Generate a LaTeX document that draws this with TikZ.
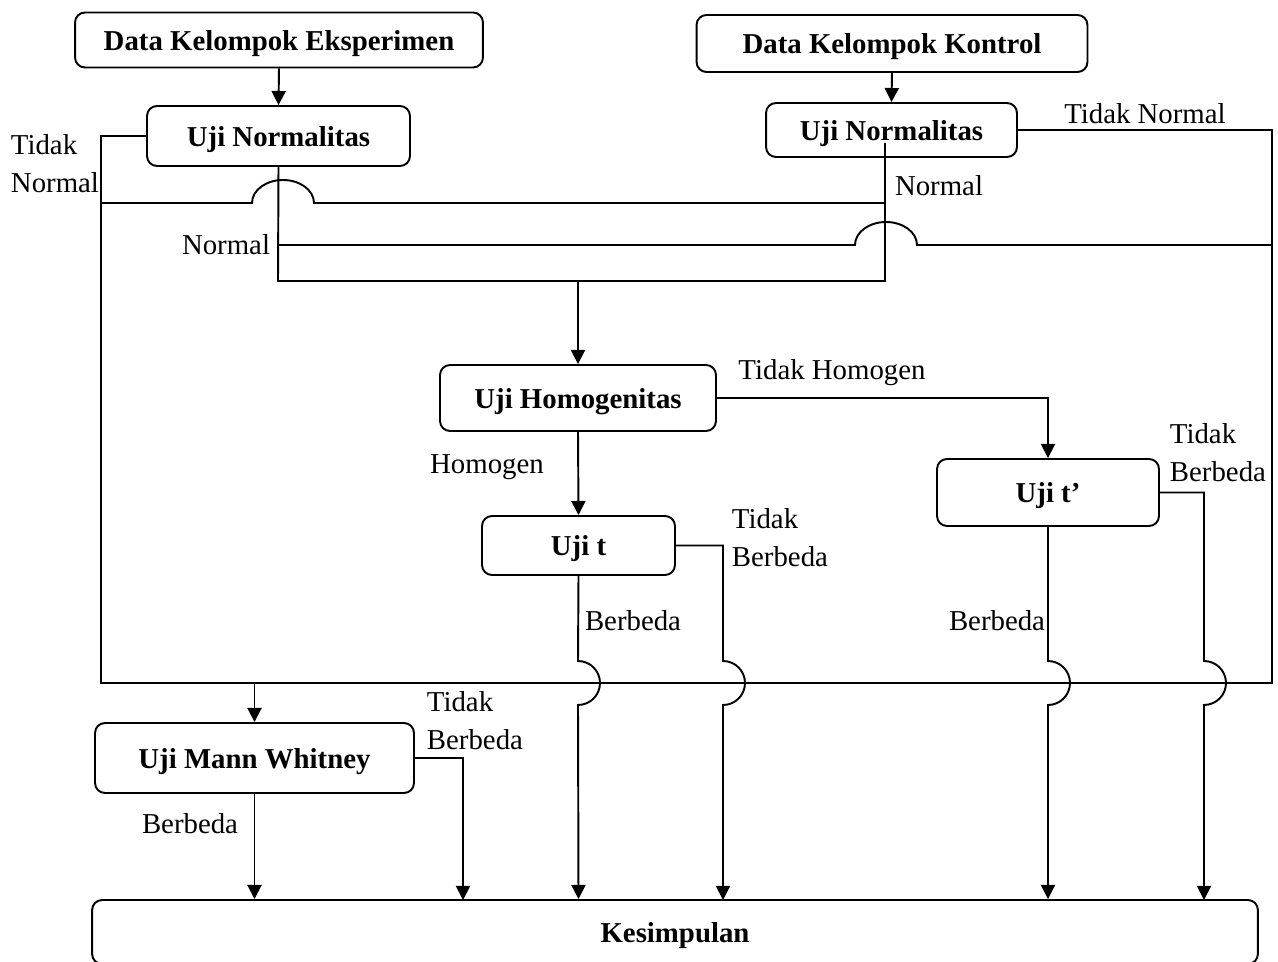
\documentclass[tikz,border=0pt]{standalone}
\usepackage{fontspec}
\setmainfont{Liberation Serif}
\usetikzlibrary{arrows.meta}

\begin{document}
\begin{tikzpicture}[x=0.02cm,y=-0.02cm,line width=1.1pt,
  box/.style={draw,rounded corners=0.2cm,align=center,font=\bfseries,text height=0.72em,text depth=0pt},
  lbl/.style={inner sep=0pt,align=left},
  arr/.style={-{Triangle[length=8pt,width=8pt]}}]
  \fontsize{16.4}{21.6}\selectfont
  \useasboundingbox (0,0) rectangle (1278,962);
  \node[box,minimum width=8.16cm,minimum height=1.10cm] (expdata) at (279,40) {Data Kelompok Eksperimen};
  \node[box,minimum width=7.82cm,minimum height=1.14cm] (kondata) at (892,43.5) {Data Kelompok Kontrol};
  \node[box,minimum width=5.26cm,minimum height=1.20cm] (norm1) at (278.5,136) {Uji Normalitas};
  \node[box,minimum width=5.02cm,minimum height=1.08cm] (norm2) at (891.5,130) {Uji Normalitas};
  \node[box,minimum width=5.52cm,minimum height=1.32cm] (homog) at (578,398) {Uji Homogenitas};
  \node[box,minimum width=3.86cm,minimum height=1.18cm] (ujit) at (578.5,545.5) {Uji t};
  \node[box,minimum width=4.44cm,minimum height=1.34cm] (ujitp) at (1048,492.5) {Uji t’};
  \node[box,minimum width=6.38cm,minimum height=1.40cm] (mannw) at (254.5,758) {Uji Mann Whitney};
  \node[box,minimum width=23.32cm,minimum height=1.28cm] (kesim) at (675,932) {Kesimpulan};
  \coordinate (bl) at (101,683);
  \coordinate (br) at (1272,683);
  \coordinate (n1low) at (278,281);
  \coordinate (n2in) at (885,143);
  \coordinate (n2low) at (885,281);
  \coordinate (homtop) at (578,281);
  \draw[arr] (expdata.south) -- (norm1.north);
  \draw[arr] (kondata.south) -- (norm2.north);
  \draw (norm1.west) -| (bl) -- (br) |- (norm2.east);
  \draw (norm1.south) -- (n1low) -- (n2low) -- (n2in);
  \draw (101,203) -- (252,203) arc[start angle=180,end angle=0,x radius=0.62cm,y radius=0.46cm] -- (885,203);
  \draw (278,245) -- (855,245) arc[start angle=180,end angle=0,x radius=0.62cm,y radius=0.46cm] -- (1272,245);
  \draw[arr] (homtop) -- (homog.north);
  \draw[arr] (homog.east) -| (ujitp.north);
  \draw[arr] (homog.south) -- (ujit.north);
  \draw[arr] (ujit.south) -- (578,661) arc[start angle=90,end angle=-90,radius=0.44cm] -- (kesim.north -| ujit.south);
  \draw[arr] (ujit.east) -| (723,661) arc[start angle=90,end angle=-90,radius=0.44cm] -- (723,900);
  \draw[arr] (ujitp.south) -- (1048,661) arc[start angle=90,end angle=-90,radius=0.44cm] -- (kesim.north -| ujitp.south);
  \draw[arr] (ujitp.east) -| (1204,661) arc[start angle=90,end angle=-90,radius=0.44cm] -- (1204,900);
  \draw[arr] (bl -| mannw.north) -- (mannw.north);
  \draw[arr] (mannw.south) -- (kesim.north -| mannw.south);
  \draw[arr] (mannw.east) -| (463,900);
  \node[lbl,anchor=west] (tn1) at (10,164) {Tidak\\Normal};
  \node[lbl,anchor=east] (nm1) at (271,245) {Normal};
  \node[lbl] (nm2) at (939,186) {Normal};
  \node[lbl] (tn2) at (1145,114) {Tidak Normal};
  \node[lbl] (thom) at (832,373) {Tidak Homogen};
  \node[lbl] (hom) at (487,467) {Homogen};
  \node[lbl,anchor=west] (tb1) at (731,538) {Tidak\\Berbeda};
  \node[lbl] (b1) at (633,621) {Berbeda};
  \node[lbl] (b2) at (997,621) {Berbeda};
  \node[lbl,anchor=west] (tb2) at (1169,453) {Tidak\\Berbeda};
  \node[lbl,anchor=west] (tb3) at (426,721) {Tidak\\Berbeda};
  \node[lbl] (b3) at (190,824) {Berbeda};
\end{tikzpicture}
\end{document}
